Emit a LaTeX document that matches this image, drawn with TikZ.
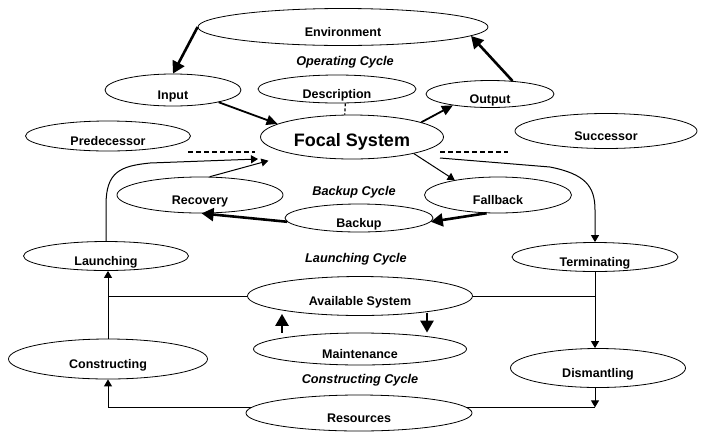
\documentclass[tikz,border=0pt]{standalone}
\usepackage{fontspec}
\setmainfont{Liberation Sans}
\usepackage{tikz}
\usetikzlibrary{arrows.meta,shapes.geometric,calc,positioning}

\tikzset{
  oval/.style={ellipse,draw,line width=0.8pt,inner sep=0pt,text height=18pt,text depth=0pt,
    font=\fontsize{12.5}{14}\selectfont\bfseries},
  cyclab/.style={font=\fontsize{12.7}{14}\selectfont\bfseries\itshape},
  fat/.style={line width=2.6pt,>={Triangle[length=12pt,width=13pt]}},
  mid/.style={line width=1.8pt,>={Triangle[length=11pt,width=10pt]}},
  slim/.style={line width=1pt,>={Triangle[length=7pt,width=8pt]}},
  sep/.style={line width=1.4pt,dash pattern=on 5pt off 3pt}
}

\begin{document}
\begin{tikzpicture}[x=1pt,y=-1pt]
\useasboundingbox (0,0) rectangle (704,432);
%Ellipsen, Masse in Pixel des Vorbilds (y nach unten)
\node[oval,minimum width=290pt,minimum height=37pt] (env) at (343,27) {Environment};
\node[cyclab] (opc) at (345,62) {Operating Cycle};
\node[oval,minimum width=136pt,minimum height=32pt] (input) at (173,90) {Input};
\node[oval,minimum width=158pt,minimum height=28pt] (desc) at (337,89) {Description};
\node[oval,minimum width=128pt,minimum height=27pt] (output) at (490,94) {Output};
\node[oval,minimum width=165pt,minimum height=30pt] (pred) at (108,136) {Predecessor};
\node[oval,minimum width=183pt,minimum height=44pt,text height=18pt,
  font=\fontsize{18}{20}\selectfont\bfseries] (focal) at (352,137) {Focal System};
\node[oval,minimum width=182pt,minimum height=35pt] (succ) at (606,131) {Successor};
\node[oval,minimum width=166pt,minimum height=36pt] (recov) at (200,195) {Recovery};
\node[cyclab] (bkc) at (354,192) {Backup Cycle};
\node[oval,minimum width=147pt,minimum height=36pt] (fallb) at (498,195) {Fallback};
\node[oval,minimum width=148pt,minimum height=28pt] (backup) at (359,218) {Backup};
\node[oval,minimum width=165pt,minimum height=29pt] (launch) at (106,256) {Launching};
\node[cyclab] (lnc) at (356,259) {Launching Cycle};
\node[oval,minimum width=166pt,minimum height=29pt] (term) at (595,257) {Terminating};
\node[oval,minimum width=225pt,minimum height=39pt] (avail) at (360,296) {Available System};
\node[oval,minimum width=213pt,minimum height=32pt] (maint) at (360,349) {Maintenance};
\node[oval,minimum width=199pt,minimum height=40pt] (constr) at (108,359) {Constructing};
\node[cyclab] (csc) at (360,380) {Constructing Cycle};
\node[oval,minimum width=175pt,minimum height=39pt] (dism) at (598,368) {Dismantling};
\node[oval,minimum width=226pt,minimum height=36pt] (res) at (359,413) {Resources};

\coordinate (lin) at (258,159);
\coordinate (rin) at (440,158);

%Trennlinien
\draw[sep] (188,152) -- (255,152);
\draw[sep] (440,152) -- (508,152);

%Betriebszyklus
\draw[fat,->] (env.west) -- (input.north);
\draw[fat,->] (output.30) -- (env.-4);
\draw[mid,->] (input.-15) -- (focal.170);
\draw[mid,->] (focal.12) -- (output.197);
\draw[line width=1.2pt,dash pattern=on 3pt off 2pt] (desc.-60) -- (focal.108);

%Backup
\draw[slim,->] (focal.-15) -- (fallb.161);
\draw[fat,->] (fallb.238) -- (backup.-3);
\draw[fat,->] (backup.183) -- (recov.-85);
\draw[slim,->,shorten >=25pt] (recov.62) -- (focal.196);

%Launching / Terminating
\draw[slim,->] (launch.north) -- (106,205) .. controls (106,172) and (120,166) .. (150,163) -- (lin);
\draw[slim,->] (rin) -- (550,167) .. controls (585,174) and (595,186) .. (595,210) -- (term.north);
\draw[slim,->] (constr.north) -- (constr.north |- launch.south);
\draw[slim] (avail.west) -- (avail.west -| constr.north);
\draw[slim] (avail.east) -- (avail.east -| term.south);
\draw[slim,->] (term.south) -- (term.south |- dism.north);

%Wartung
\draw[fat,->,shorten >=-2pt] ([xshift=-78pt]maint.north) -- ([xshift=-78pt]avail.south);
\draw[fat,->,shorten <=-3pt] ([xshift=67pt]avail.south) -- ([xshift=67pt]maint.north);

%Ressourcen
\draw[slim] (res.3) -- (res.3 -| term.south);
\draw[slim,->] (term.south |- dism.south) -- (term.south |- res.3);
\draw[slim,->] (res.177) -| (constr.south);
\end{tikzpicture}
\end{document}
